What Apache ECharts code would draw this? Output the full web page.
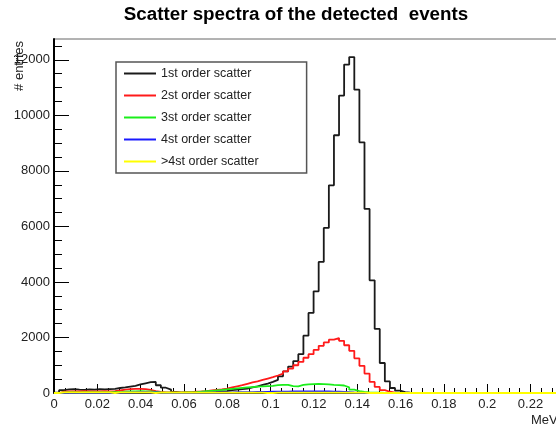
<!DOCTYPE html>
<html>
<head>
<meta charset="utf-8">
<script src="https://cdn.jsdelivr.net/npm/echarts@6.0.0/dist/echarts.min.js"></script>
<style>
html,body{margin:0;padding:0;background:#fff;}
#c{width:556px;height:426px;}
</style>
</head>
<body>
<div id="c"></div>
<script>
// ---- histogram binning (x axis in MeV) ----
const xLow = 0, xHigh = 0.235, nBins = 100;

// ---- tick values / labels ----
const xMajorTicks = [0, 0.02, 0.04, 0.06, 0.08, 0.1, 0.12, 0.14, 0.16, 0.18, 0.2, 0.22];
const yMajorTicks = [0, 2000, 4000, 6000, 8000, 10000, 12000];
const yMinorTicks = [500, 1000, 1500, 2500, 3000, 3500, 4500, 5000, 5500, 6500, 7000, 7500,
                     8500, 9000, 9500, 10500, 11000, 11500, 12500];
const yMax = 12750;

// ---- series names ----
const seriesNames = ['1st order scatter', '2st order scatter', '3st order scatter', '4st order scatter', '>4st order scatter'];
const seriesColors = ['#1a1a1a', '#ff1a1a', '#1aee1a', '#1a1aff', '#ffff00'];

// ---- bin contents (# entries), 100 bins each ----
const order1 = [
  10, 100, 130, 140, 120, 110, 130, 120, 140, 130,
  140, 150, 180, 200, 230, 260, 310, 350, 390, 400,
  280, 190, 120, 40, 15, 10, 10, 10, 15, 20,
  30, 40, 55, 70, 100, 120, 140, 160, 200, 240,
  290, 340, 400, 470, 600, 780, 950, 1150, 1400, 2065,
  2883, 3661, 4721, 5946, 7481, 9283, 10713, 11830, 12100, 10926,
  9030, 6631, 4058, 2306, 1081, 418, 180, 83, 30, 10,
  0, 0, 0, 0, 0, 0, 0, 0, 0, 0,
  0, 0, 0, 0, 0, 0, 0, 0, 0, 0,
  0, 0, 0, 0, 0, 0, 0, 0, 0, 0
];
const order2 = [
  0, 50, 60, 55, 60, 65, 60, 55, 60, 65,
  60, 70, 90, 120, 140, 145, 150, 140, 110, 70,
  40, 25, 20, 20, 25, 30, 35, 45, 55, 70,
  90, 110, 130, 160, 200, 240, 280, 330, 380, 420,
  470, 520, 570, 630, 700, 780, 880, 1000, 1120, 1270,
  1400, 1550, 1700, 1820, 1920, 1980, 1880, 1720, 1520, 1250,
  980, 700, 400, 220, 100, 45, 15, 5, 0, 0,
  0, 0, 0, 0, 0, 0, 0, 0, 0, 0,
  0, 0, 0, 0, 0, 0, 0, 0, 0, 0,
  0, 0, 0, 0, 0, 0, 0, 0, 0, 0
];
const order3 = [
  0, 15, 20, 20, 15, 20, 20, 25, 20, 25,
  25, 30, 35, 45, 55, 60, 65, 60, 55, 40,
  25, 15, 10, 10, 15, 20, 25, 35, 50, 65,
  80, 95, 110, 130, 150, 170, 185, 200, 215, 230,
  240, 250, 260, 280, 295, 290, 250, 240, 290, 310,
  320, 330, 320, 310, 295, 285, 270, 200, 120, 70,
  40, 25, 15, 10, 5, 0, 0, 0, 0, 0,
  0, 0, 0, 0, 0, 0, 0, 0, 0, 0,
  0, 0, 0, 0, 0, 0, 0, 0, 0, 0,
  0, 0, 0, 0, 0, 0, 0, 0, 0, 0
];
const order4 = [
  0, 5, 5, 8, 5, 5, 8, 5, 5, 8,
  5, 8, 10, 15, 20, 25, 30, 30, 25, 20,
  10, 5, 5, 5, 5, 5, 8, 8, 10, 12,
  15, 18, 20, 22, 25, 28, 30, 32, 35, 38,
  40, 42, 45, 48, 50, 52, 55, 58, 60, 60,
  62, 60, 58, 55, 50, 45, 40, 30, 20, 12,
  8, 5, 3, 0, 0, 0, 0, 0, 0, 0,
  0, 0, 0, 0, 0, 0, 0, 0, 0, 0,
  0, 0, 0, 0, 0, 0, 0, 0, 0, 0,
  0, 0, 0, 0, 0, 0, 0, 0, 0, 0
];
const order5 = [
  0, 25, 25, 25, 25, 25, 25, 25, 25, 25,
  25, 0, 20, 20, 20, 20, 20, 20, 20, 0,
  15, 15, 15, 15, 15, 15, 15, 15, 15, 15,
  15, 15, 15, 15, 15, 15, 15, 15, 15, 15,
  15, 0, 0, 15, 15, 15, 15, 15, 15, 15,
  15, 15, 15, 15, 15, 15, 10, 10, 10, 10,
  10, 0, 0, 0, 0, 0, 0, 0, 0, 0,
  0, 0, 0, 0, 0, 0, 0, 0, 0, 0,
  0, 0, 0, 0, 0, 0, 0, 0, 0, 0,
  0, 0, 0, 0, 0, 0, 0, 0, 0, 0
];
const allCounts = [order1, order2, order3, order4, order5];

// bin edges from the binning definition
const binEdges = [];
for (let i = 0; i <= nBins; i++) binEdges.push(xLow + i * (xHigh - xLow) / nBins);

function histSteps(vals) {
  const pts = [];
  for (let i = 0; i < vals.length; i++) pts.push([binEdges[i], vals[i]]);
  pts.push([binEdges[vals.length], vals[vals.length - 1]]);
  return pts;
}

const FONT = '"Liberation Sans", Arial, Helvetica, sans-serif';

const chart = echarts.init(document.getElementById('c'), null, {renderer: 'canvas'});

const option = {
  animation: false,
  backgroundColor: '#ffffff',
  title: {
    text: 'Scatter spectra of the detected  events',
    left: 296, top: 5, padding: 0, textAlign: 'center',
    textStyle: {fontFamily: FONT, fontSize: 18.8, fontWeight: 'bold', color: '#000'}
  },
  legend: {
    orient: 'vertical',
    left: 116, top: 62,
    padding: [5, 48, 5, 8],
    itemWidth: 32, itemHeight: 12, itemGap: 9,
    icon: 'path://M0,0H32V2H0Z',
    backgroundColor: '#fff',
    borderColor: '#555', borderWidth: 1.5,
    textStyle: {fontFamily: FONT, fontSize: 12.5, color: '#222'},
    data: seriesNames
  },
  grid: {
    left: 54, right: -7, top: 39, bottom: 33,
    show: true, borderColor: '#666', borderWidth: 1,
    containLabel: false, outerBoundsMode: 'none'
  },
  xAxis: [
    {
      type: 'value', min: xLow, max: xHigh, interval: 0.02, position: 'bottom',
      axisLine: {show: true, onZero: false, lineStyle: {color: '#000', width: 1.5}},
      axisTick: {show: true, inside: true, length: 9, customValues: xMajorTicks, lineStyle: {color: '#000', width: 1}},
      axisLabel: {show: true, customValues: xMajorTicks, margin: 5, fontSize: 13, color: '#222', fontFamily: FONT,
                  formatter: v => String(Math.round(v * 1000) / 1000)},
      splitLine: {show: false}
    },
    {
      type: 'value', min: xLow, max: xHigh, interval: 0.005, position: 'bottom',
      axisLine: {show: false},
      axisTick: {show: true, inside: true, length: 5, lineStyle: {color: '#000', width: 1}},
      axisLabel: {show: false},
      splitLine: {show: false}
    }
  ],
  yAxis: [
    {
      type: 'value', min: 0, max: yMax, interval: 2000, position: 'left',
      axisLine: {show: true, onZero: false, lineStyle: {color: '#000', width: 2}},
      axisTick: {show: true, inside: true, length: 15, customValues: yMajorTicks, lineStyle: {color: '#000', width: 1}},
      axisLabel: {show: true, customValues: yMajorTicks, margin: 4, fontSize: 13, color: '#222', fontFamily: FONT,
                  formatter: v => String(v)},
      splitLine: {show: false}
    },
    {
      type: 'value', min: 0, max: yMax, interval: 500, position: 'left',
      axisLine: {show: false},
      axisTick: {show: true, inside: true, length: 8, customValues: yMinorTicks, lineStyle: {color: '#000', width: 1}},
      axisLabel: {show: false},
      splitLine: {show: false}
    }
  ],
  graphic: [
    {type: 'text', x: 19, y: 66, rotation: Math.PI / 2,
     style: {text: '# entries', fontSize: 13, fontFamily: FONT, fill: '#222', align: 'center', verticalAlign: 'middle'}},
    {type: 'text', x: 531, y: 420,
     style: {text: 'MeV', fontSize: 13, fontFamily: FONT, fill: '#222', align: 'left', verticalAlign: 'middle'}}
  ],
  series: seriesNames.map((name, k) => ({
    name: name,
    type: 'line',
    step: 'end',
    xAxisIndex: 0, yAxisIndex: 0,
    data: histSteps(allCounts[k]),
    symbol: 'none', showSymbol: false,
    lineStyle: {color: seriesColors[k], width: 1.8},
    itemStyle: {color: seriesColors[k]},
    silent: true
  }))
};

chart.setOption(option);
</script>
</body>
</html>
